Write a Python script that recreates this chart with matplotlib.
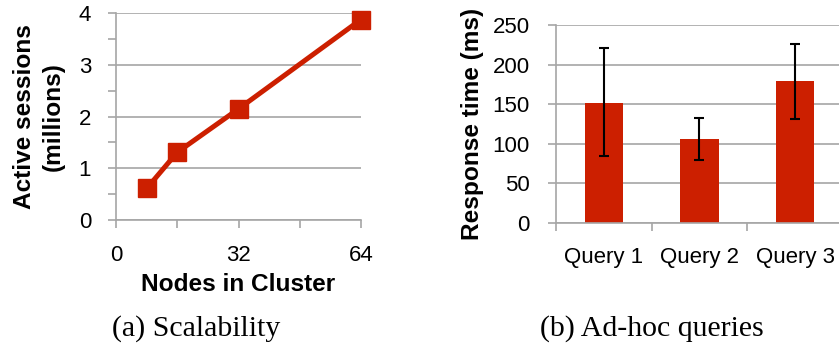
import matplotlib
matplotlib.use("Agg")
import matplotlib.pyplot as plt
import numpy as np

# Data
nodes = [8, 16, 32, 64]
sessions = [0.61, 1.31, 2.15, 3.88]
x_ticks = [0, 16, 32, 48, 64]
x_ticklabels = ["0", "", "32", "", "64"]

queries = ["Query 1", "Query 2", "Query 3"]
resp = [152, 106, 179]
err_low = [84, 80, 131]
err_high = [221, 133, 226]

RED = "#cc1f00"
GRID = "#a6a6a6"
plt.rcParams['font.family'] = ['Liberation Sans', 'DejaVu Sans']

fig = plt.figure(figsize=(8.39, 3.51), dpi=100)
W, H = 839, 351

def ax_rect(l, r, t, b):
    return [l / W, 1 - b / H, (r - l) / W, (b - t) / H]

TICK_FS = 16
LABEL_FS = 17.6

# Left
ax1 = fig.add_axes(ax_rect(116, 361, 13.3, 220))
ax1.plot(nodes, sessions, color=RED, lw=3.6, marker='s', ms=12.5, clip_on=False, zorder=3)
ax1.set_xlim(0, 64)
ax1.set_ylim(0, 4)
ax1.set_yticks([0, 1, 2, 3, 4])
ax1.set_yticks([0.5, 1.5, 2.5, 3.5], minor=True)
ax1.set_xticks(x_ticks)
ax1.set_xticklabels(x_ticklabels)
ax1.grid(axis='y', which='major', color=GRID, lw=1.2)
ax1.set_axisbelow(True)
for s in ['top', 'right']:
    ax1.spines[s].set_visible(False)
for s in ['left', 'bottom']:
    ax1.spines[s].set_color(GRID)
    ax1.spines[s].set_linewidth(1.2)
ax1.tick_params(axis='both', which='both', color=GRID, width=1.2, length=6, labelsize=TICK_FS)
ax1.tick_params(axis='x', pad=12)
ax1.tick_params(axis='y', pad=12)
ax1.set_xlabel("Nodes in Cluster", fontsize=LABEL_FS, fontweight='bold', labelpad=5)
ax1.set_ylabel("Active sessions\n(millions)", fontsize=LABEL_FS, fontweight='bold', labelpad=10, linespacing=1.3)

# Right
ax2 = fig.add_axes(ax_rect(556, 839, 25, 223))
pos = np.arange(len(queries))
yerr = [np.array(resp) - np.array(err_low), np.array(err_high) - np.array(resp)]
ax2.bar(pos, resp, width=0.4, color=RED, zorder=2)
ax2.errorbar(pos, resp, yerr=yerr, fmt='none', ecolor='black', elinewidth=1.5, capsize=3.6, capthick=1.5, zorder=3)
ax2.set_xlim(-0.5, 2.46)
ax2.set_ylim(0, 250)
ax2.set_yticks([0, 50, 100, 150, 200, 250])
ax2.set_xticks([-0.5, 0.5, 1.5])
ax2.set_xticklabels([])
ax2.set_xticks(pos, minor=True)
ax2.set_xticklabels(queries, minor=True)
ax2.grid(axis='y', which='major', color=GRID, lw=1.2)
ax2.set_axisbelow(True)
for s in ['top', 'right']:
    ax2.spines[s].set_visible(False)
for s in ['left', 'bottom']:
    ax2.spines[s].set_color(GRID)
    ax2.spines[s].set_linewidth(1.2)
ax2.tick_params(axis='both', which='major', color=GRID, width=1.2, length=6, labelsize=TICK_FS)
ax2.tick_params(axis='x', which='minor', length=0, labelsize=TICK_FS, pad=17)
ax2.tick_params(axis='y', pad=13)
ax2.set_ylabel("Response time (ms)", fontsize=LABEL_FS, fontweight='bold', labelpad=6)

# Captions
fig.text(196 / W, 1 - 329 / H, "(a) Scalability", ha='center', va='center',
         fontsize=21.5, family=['Liberation Serif', 'DejaVu Serif'])
fig.text(652 / W, 1 - 329 / H, "(b) Ad-hoc queries", ha='center', va='center',
         fontsize=21.5, family=['Liberation Serif', 'DejaVu Serif'])

fig.savefig("out.png", dpi=100)
